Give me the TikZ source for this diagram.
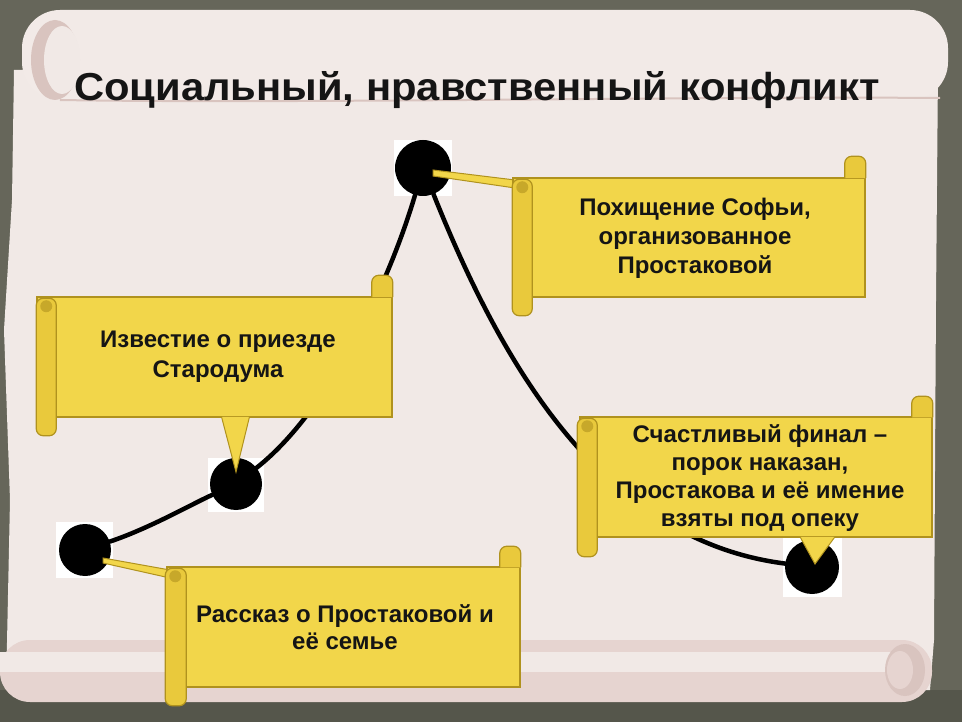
\documentclass[tikz,border=0pt]{standalone}
\usepackage{fontspec}
\setmainfont{Liberation Sans}
\usetikzlibrary{calc}
\definecolor{olive}{HTML}{66665A}
\definecolor{oliveDark}{HTML}{55564B}
\definecolor{parch}{HTML}{F1E9E6}
\definecolor{parchPink}{HTML}{E6D4D0}
\definecolor{parchShade}{HTML}{D9C4BF}
\definecolor{boxyellow}{HTML}{F2D64A}
\definecolor{boxedge}{HTML}{B0921E}
\definecolor{rollyellow}{HTML}{E9C93C}
\definecolor{ink}{HTML}{151515}
\begin{document}
\begin{tikzpicture}[x=1pt,y=-1pt,
  mainbox/.style={draw=boxedge, line width=1.5pt, fill=boxyellow, inner sep=0},
  roll/.style={draw=boxedge, line width=1.2pt, fill=rollyellow, rounded corners=7pt},
  label/.style={align=center, text=ink, font=\bfseries\fontsize{24}{29}\selectfont, inner sep=0},
  dot/.style={circle, fill=black, inner sep=0},
  dotbg/.style={fill=white},
  conn/.style={line width=4.5pt, black, line cap=round},
  pointer/.style={draw=boxedge, line width=1pt, fill=boxyellow}
]
\useasboundingbox (0,0) rectangle (962,722);
% background
\fill[olive] (0,0) rectangle (962,722);
\fill[oliveDark] (0,690) rectangle (962,722);
% parchment body
\fill[parch] (14,70) -- (938,70) -- (936,300) -- (934,640) -- (930,690) -- (6,690) -- (10,500) -- (4,330) -- (12,200) -- cycle;
% top roll
\fill[parch!95!white, rounded corners=38pt] (22,10) rectangle (948,100);
\draw[parchShade, line width=2pt] (60,100) .. controls (300,104) and (700,96) .. (940,98);
\fill[parchShade] (55,60) ellipse (24pt and 40pt);
\fill[parch] (62,60) ellipse (18pt and 34pt);
% bottom roll
\fill[parchPink, rounded corners=30pt] (0,640) rectangle (932,702);
\fill[parch] (0,652) rectangle (900,672);
\fill[parchShade] (905,670) ellipse (20pt and 26pt);
\fill[parchPink] (900,670) ellipse (13pt and 19pt);
% title
\node[font=\bfseries\fontsize{39}{44}\selectfont, text=ink, xscale=1.07, inner sep=0] (title) at (477,90) {Социальный, нравственный конфликт};
% white patches behind dots
\fill[dotbg] (394,140) rectangle (452,196);
\fill[dotbg] (208,458) rectangle (264,512);
\fill[dotbg] (56,522) rectangle (113,578);
\fill[dotbg] (783,538) rectangle (842,597);
% dots
\node[dot, minimum size=56pt] (d3) at (423,168) {};
\node[dot, minimum size=52pt] (d2) at (236,484) {};
\node[dot, minimum size=52pt] (d1) at (85,550) {};
\node[dot, minimum size=54pt] (d4) at (812,567) {};
% connectors
\draw[conn] (d1) .. controls (150,528) and (190,505) .. (d2);
\draw[conn] (d2) .. controls (330,410) and (390,280) .. (d3);
\draw[conn] (d3) .. controls (500,360) and (600,540) .. (d4);
% box 1
\draw[pointer] ($(d3.center)+(10,2)$) -- (515,180) -- (515,188) -- ($(d3.center)+(10,8)$) -- cycle;
\node[mainbox, minimum width=352pt, minimum height=119pt] (b1) at (689,237.5) {};
\draw[roll] ($(b1.north east)+(-21,1)$) -- ($(b1.north east)+(-21,-21)$) -- ($(b1.north east)+(0,-21)$) -- ($(b1.north east)+(0,1)$);
\draw[roll] ($(b1.north west)+(0,2)$) rectangle ($(b1.south west)+(20,18)$);
\fill[boxedge!60!rollyellow] ($(b1.north west)+(10,10)$) circle (6pt);
\node[label] (t1) at (695,238) {Похищение Софьи,\\организованное\\Простаковой};
% box 2
\node[mainbox, minimum width=355pt, minimum height=120pt] (b2) at (214.5,357) {};
\draw[pointer] ($(b2.south)+(7,-1)$) -- ($(d2.center)+(0,-12)$) -- ($(b2.south)+(35,-1)$);
\draw[roll] ($(b2.north east)+(-21,1)$) -- ($(b2.north east)+(-21,-21)$) -- ($(b2.north east)+(0,-21)$) -- ($(b2.north east)+(0,1)$);
\draw[roll] ($(b2.north west)+(0,2)$) rectangle ($(b2.south west)+(20,18)$);
\fill[boxedge!60!rollyellow] ($(b2.north west)+(10,10)$) circle (6pt);
\node[label, font=\bfseries\fontsize{24}{30}\selectfont] (t2) at (218,357) {Известие о приезде\\Стародума};
% box 3
\node[mainbox, minimum width=352pt, minimum height=120pt] (b3) at (756,477) {};
\draw[pointer] ($(b3.south)+(44,-1)$) -- ($(d4.center)+(3,-3)$) -- ($(b3.south)+(79,-1)$);
\draw[roll] ($(b3.north east)+(-21,1)$) -- ($(b3.north east)+(-21,-20)$) -- ($(b3.north east)+(0,-20)$) -- ($(b3.north east)+(0,1)$);
\draw[roll] ($(b3.north west)+(-2,2)$) rectangle ($(b3.south west)+(18,19)$);
\fill[boxedge!60!rollyellow] ($(b3.north west)+(8,10)$) circle (6pt);
\node[label, font=\bfseries\fontsize{24}{28}\selectfont] (t3) at (760,478) {Счастливый финал –\\порок наказан,\\Простакова и её имение\\взяты под опеку};
% box 4
\draw[pointer] ($(d1.center)+(18,8)$) -- (170,570) -- (170,578) -- ($(d1.center)+(18,13)$) -- cycle;
\node[mainbox, minimum width=353pt, minimum height=120pt] (b4) at (343.5,627) {};
\draw[roll] ($(b4.north east)+(-21,1)$) -- ($(b4.north east)+(-21,-20)$) -- ($(b4.north east)+(0,-20)$) -- ($(b4.north east)+(0,1)$);
\draw[roll] ($(b4.north west)+(-1,2)$) rectangle ($(b4.south west)+(20,18)$);
\fill[boxedge!60!rollyellow] ($(b4.north west)+(9,10)$) circle (6pt);
\node[label, font=\bfseries\fontsize{24}{27}\selectfont] (t4) at (345,627) {Рассказ о Простаковой и\\её семье};
\end{tikzpicture}
\end{document}
